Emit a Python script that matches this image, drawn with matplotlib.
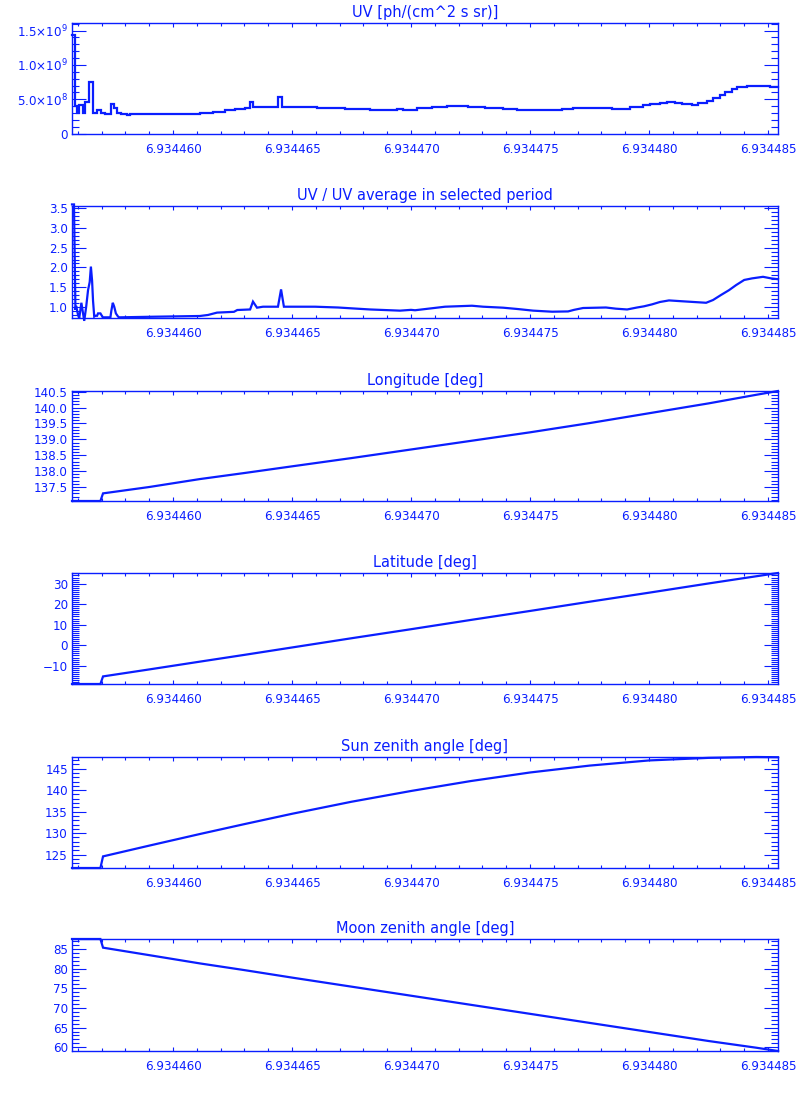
import numpy as np
import matplotlib
matplotlib.use("Agg")
import matplotlib.pyplot as plt
from matplotlib.ticker import MultipleLocator, FormatStrFormatter, FuncFormatter, FixedLocator

BLUE = "#0a1eff"

# time axis: T0 + offset * 1e-6
T0 = 6.934455
T_LEFT = 0.756
T_RIGHT = 30.42

# UV flux (step data), offsets and values in units of 1e8
UV_T = [0.756, 0.87, 0.97, 1.06, 1.21, 1.32, 1.46, 1.63, 1.79, 1.99, 2.13, 2.38, 2.51,
        2.63, 2.80, 3.07, 3.21, 6.13, 6.68, 7.19, 7.61, 8.03, 8.24, 8.36, 8.53, 9.41,
        9.58, 11.05, 12.23, 13.28, 14.41, 14.66, 15.25, 15.88, 16.51, 17.40, 18.11,
        18.87, 19.45, 21.35, 21.81, 22.94, 23.45, 24.20, 24.75, 25.04, 25.46, 25.76,
        26.09, 26.39, 26.81, 27.06, 27.44, 27.69, 27.98, 28.19, 28.49, 28.70, 29.12,
        29.54, 29.79, 30.08, 30.42]
UV_V = [14.4, 4.0, 3.0, 4.15, 3.0, 4.6, 7.45, 2.94, 3.4, 3.0, 2.8, 4.25, 3.7,
        3.0, 2.85, 2.75, 2.88, 2.94, 3.13, 3.43, 3.62, 3.7, 4.6, 3.9, 3.9, 5.36,
        3.91, 3.76, 3.62, 3.47, 3.62, 3.47, 3.76, 3.91, 4.05, 3.91, 3.76,
        3.62, 3.47, 3.62, 3.76, 3.76, 3.62, 3.9, 4.15, 4.35, 4.5, 4.64,
        4.5, 4.35, 4.2, 4.4, 4.7, 5.13, 5.6, 6.1, 6.44, 6.73, 6.9,
        7.0, 6.9, 6.73, 6.73]

# UV / average
RATIO_T = [0.756, 0.84, 0.90, 0.93, 1.01, 1.06, 1.15, 1.22, 1.27, 1.35, 1.43, 1.50, 1.55,
           1.60, 1.64, 1.69, 1.73, 1.81, 1.85, 1.95, 1.99, 2.05, 2.37, 2.41, 2.47, 2.53,
           2.60, 2.69, 2.74, 4.12, 6.13, 6.47, 6.85, 7.56, 7.70, 8.24, 8.36, 8.53, 8.78,
           9.41, 9.54, 9.66, 10.97, 11.93, 12.73, 13.28, 14.54, 15.0, 15.17, 15.97, 16.43,
           17.56, 18.03, 18.87, 19.50, 20.13, 20.93, 21.6, 21.85, 22.23, 23.19, 23.61,
           24.08, 24.50, 24.79, 25.13, 25.46, 25.84, 26.35, 27.40, 27.69, 28.03, 28.36,
           28.66, 29.0, 29.33, 29.79, 30.13, 30.42]
RATIO_V = [3.6, 3.6, 0.92, 1.02, 0.79, 0.71, 1.10, 0.83, 0.64, 0.99, 1.42, 1.63, 2.02,
           1.66, 1.15, 0.75, 0.77, 0.77, 0.83, 0.83, 0.79, 0.73, 0.73, 0.90, 1.10, 1.00,
           0.83, 0.75, 0.73, 0.745, 0.764, 0.79, 0.85, 0.87, 0.916, 0.93, 1.13, 0.975, 1.0,
           1.0, 1.44, 1.0, 1.0, 0.98, 0.95, 0.93, 0.90, 0.92, 0.91, 0.967, 1.0,
           1.025, 1.0, 0.975, 0.94, 0.90, 0.873, 0.88, 0.92, 0.967, 0.98, 0.95,
           0.93, 0.98, 1.01, 1.06, 1.12, 1.16, 1.14, 1.10, 1.17, 1.30, 1.42,
           1.55, 1.68, 1.72, 1.76, 1.72, 1.70]

GEO_T = [0.756, 1.95, 2.06, 4.0, 6.13, 8.0, 10.0, 12.5, 15.0, 17.5, 20.0, 22.5, 25.0,
         27.5, 29.5, 30.42]
LON = [137.06, 137.06, 137.30, 137.50, 137.75, 137.94, 138.15, 138.41, 138.68, 138.95,
       139.22, 139.51, 139.82, 140.13, 140.40, 140.52]
LAT = [-18.9, -18.9, -15.2, -11.8, -8.0, -4.7, -1.1, 3.4, 7.8, 12.3, 16.7, 21.2, 25.6,
       30.1, 33.6, 35.2]
SUN = [121.9, 121.9, 124.6, 127.1, 129.8, 132.1, 134.5, 137.3, 139.8, 142.1, 144.1,
       145.7, 146.9, 147.5, 147.7, 147.65]
MOON = [87.5, 87.5, 85.3, 83.4, 81.3, 79.6, 77.7, 75.4, 73.1, 70.8, 68.5, 66.2, 63.9,
        61.6, 59.9, 59.06]

TITLES = ["UV [ph/(cm^2 s sr)]", "UV / UV average in selected period", "Longitude [deg]",
          "Latitude [deg]", "Sun zenith angle [deg]", "Moon zenith angle [deg]"]
YLIMS = [(-0.05e8, 16.1e8), (0.713, 3.56), (137.06, 140.52), (-18.9, 35.2),
         (121.9, 147.7), (59.06, 87.5)]
YMAJOR = [5e8, 0.5, 0.5, 10, 5, 5]
YMINOR = [1e8, 0.1, 0.1, 1, 1, 1]
X_TICKS = [6.934460, 6.934465, 6.934470, 6.934475, 6.934480, 6.934485]

# panel boxes in pixels from the top (top, bottom)
BOXES = [(23, 134), (206, 318), (391, 501), (573, 684), (757, 868), (939, 1051)]


def uv_label(v, pos):
    if abs(v) < 1:
        return "0"
    e = int(np.floor(np.log10(abs(v)) + 1e-9))
    m = v / 10 ** e
    return r"%.1f$\times$10$^{%d}$" % (m, e)


def main():
    plt.rcParams["font.family"] = ["DejaVu Sans"]
    fig = plt.figure(figsize=(8, 11), dpi=100)

    t = lambda arr: T0 + np.array(arr) * 1e-6
    series = [
        (t(UV_T), np.array(UV_V) * 1e8, "steps-post"),
        (t(RATIO_T), np.array(RATIO_V), "default"),
        (t(GEO_T), np.array(LON), "default"),
        (t(GEO_T), np.array(LAT), "default"),
        (t(GEO_T), np.array(SUN), "default"),
        (t(GEO_T), np.array(MOON), "default"),
    ]

    for i, (top, bot) in enumerate(BOXES):
        ax = fig.add_axes([72 / 800, 1 - bot / 1100, 706 / 800, (bot - top) / 1100])
        x, y, ds = series[i]
        ax.plot(x, y, color=BLUE, lw=1.6, drawstyle=ds, solid_joinstyle="miter",
                clip_on=False)
        ax.set_xlim(T0 + T_LEFT * 1e-6, T0 + T_RIGHT * 1e-6)
        ax.set_ylim(*YLIMS[i])

        ax.xaxis.set_major_locator(FixedLocator(X_TICKS))
        ax.xaxis.set_minor_locator(MultipleLocator(1e-6))
        ax.xaxis.set_major_formatter(FormatStrFormatter("%.6f"))
        ax.yaxis.set_major_locator(MultipleLocator(YMAJOR[i]))
        ax.yaxis.set_minor_locator(MultipleLocator(YMINOR[i]))
        if i == 0:
            ax.yaxis.set_major_formatter(FuncFormatter(uv_label))
        elif i in (1, 2):
            ax.yaxis.set_major_formatter(FormatStrFormatter("%.1f"))

        for s in ax.spines.values():
            s.set_color(BLUE)
            s.set_linewidth(1.0)
        ax.tick_params(axis="both", which="both", direction="in", colors=BLUE,
                       top=True, right=True, width=0.8, labelsize=8.6)
        ax.tick_params(axis="y", which="major", length=10, pad=3)
        ax.tick_params(axis="y", which="minor", length=5)
        ax.tick_params(axis="x", which="major", length=2.8, pad=6.5)
        ax.tick_params(axis="x", which="minor", length=2.2)
        ax.set_title(TITLES[i], color=BLUE, fontsize=10.5, pad=4)

    fig.savefig("out.png", dpi=100)
    plt.close(fig)


if __name__ == "__main__":
    main()
